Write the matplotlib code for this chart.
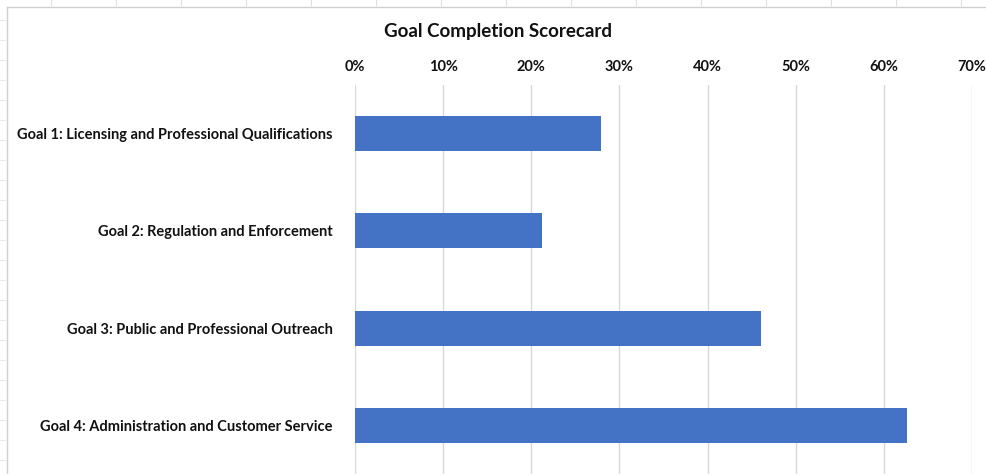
import matplotlib.pyplot as plt
from matplotlib.lines import Line2D
from matplotlib.ticker import PercentFormatter

goals = [
    "Goal 1: Licensing and Professional Qualifications",
    "Goal 2: Regulation and Enforcement",
    "Goal 3: Public and Professional Outreach",
    "Goal 4: Administration and Customer Service",
]
completion = [0.279, 0.212, 0.461, 0.626]
x_ticks = [0, 0.1, 0.2, 0.3, 0.4, 0.5, 0.6, 0.7]

plt.rcParams["font.family"] = ["Lato", "DejaVu Sans"]

W, H = 986, 474
fig = plt.figure(figsize=(W / 100, H / 100), dpi=100)
ax = fig.add_axes([355 / W, 0, (972 - 355) / W, 1 - 85 / H])

y = list(range(len(goals)))
ax.barh(y, completion, height=0.36, color="#4472C4", zorder=3)
ax.set_ylim(len(goals) - 0.5, -0.5)
ax.set_xlim(0, 0.7)
ax.set_yticks(y)
ax.set_yticklabels(goals, fontsize=10.5, fontweight="bold", color="#111111")
ax.set_xticks(x_ticks)
ax.xaxis.set_major_formatter(PercentFormatter(1.0, decimals=0))
ax.xaxis.tick_top()
ax.tick_params(axis="x", length=0, pad=8, labelsize=10.5, labelcolor="#111111")
ax.tick_params(axis="y", length=0, pad=16)
for lab in ax.get_xticklabels():
    lab.set_fontweight("bold")
ax.grid(axis="x", color="#D9D9D9", linewidth=1, zorder=0)
for s in ax.spines.values():
    s.set_visible(False)

fig.text(498 / W, 1 - 31 / H, "Goal Completion Scorecard", ha="center", va="center",
         fontsize=13.5, fontweight="bold", color="#111111")

# chart frame and spreadsheet cell marks around it
fx = lambda px: px / W
fy = lambda py: 1 - py / H
fig.add_artist(Line2D([fx(7), 1], [fy(7), fy(7)], color="#D0D0D0", lw=1))
fig.add_artist(Line2D([fx(7), fx(7)], [fy(7), 0], color="#D0D0D0", lw=1))
for px in range(51, W, 65):
    fig.add_artist(Line2D([fx(px), fx(px)], [1, fy(5)], color="#E0E0E0", lw=0.8))
for py in range(20, H, 20):
    fig.add_artist(Line2D([0, fx(5)], [fy(py), fy(py)], color="#EBEBEB", lw=0.8))

fig.savefig("out.png", dpi=100)
